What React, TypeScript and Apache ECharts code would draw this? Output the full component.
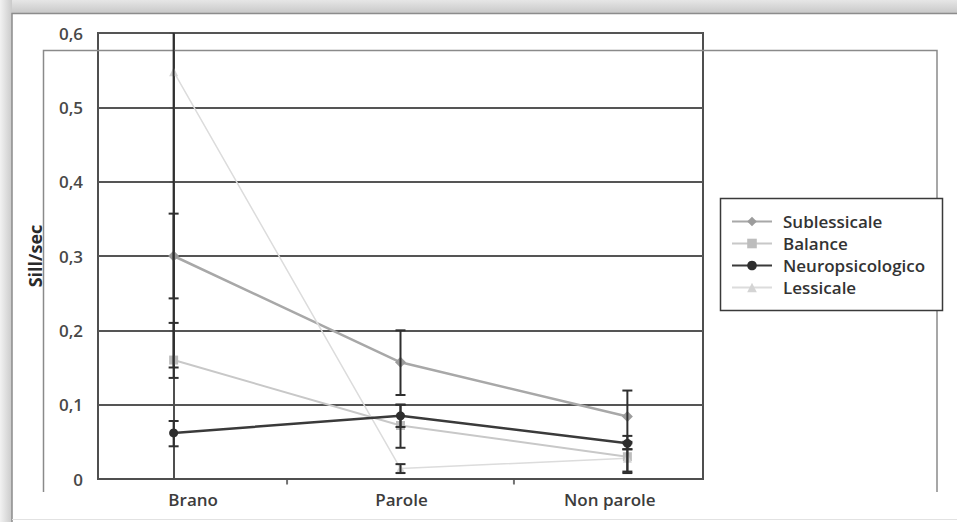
import React, { useEffect, useRef } from "react";
import * as echarts from "echarts";

const categories = ["Brano", "Parole", "Non parole"];
const yTicks = [0, 0.1, 0.2, 0.3, 0.4, 0.5, 0.6];
const seriesNames = ["Sublessicale", "Balance", "Neuropsicologico", "Lessicale"];

const sublessicale = [0.3, 0.157, 0.084];
const sublessicaleLow = [0.243, 0.113, 0.048];
const sublessicaleHigh = [0.357, 0.2, 0.119];

const balance = [0.16, 0.072, 0.03];
const balanceLow = [0.15, 0.042, 0.01];
const balanceHigh = [0.21, 0.1, 0.05];

const neuropsicologico = [0.062, 0.085, 0.048];
const neuropsicologicoLow = [0.044, 0.07, 0.04];
const neuropsicologicoHigh = [0.078, 0.1, 0.058];

const lessicale = [0.548, 0.014, 0.028];
const lessicaleLow = [0.136, 0.008, 0.008];
const lessicaleHigh = [0.96, 0.02, 0.04];

const minorTicks = [0.5, 1.5];

const FONT = "'Open Sans', 'DejaVu Sans', sans-serif";

export default function App() {
  const ref = useRef<HTMLDivElement>(null);

  useEffect(() => {
    if (!ref.current) return;
    const chart = echarts.init(ref.current, null, { renderer: "svg" });

    const values = [sublessicale, balance, neuropsicologico, lessicale];
    const lows = [sublessicaleLow, balanceLow, neuropsicologicoLow, lessicaleLow];
    const highs = [sublessicaleHigh, balanceHigh, neuropsicologicoHigh, lessicaleHigh];
    const colors = ["#a8a8a8", "#c8c8c8", "#3a3a3a", "#dcdcdc"];
    const markerColors = ["#9c9c9c", "#bdbdbd", "#2e2e2e", "#d4d4d4"];
    const widths = [2.5, 2, 2.5, 1.5];
    const symbols = ["diamond", "rect", "circle", "triangle"];
    const symbolSizes = [11, 9, 9, 9];

    const errData: number[][] = [];
    values.forEach((_, s) => {
      categories.forEach((_, i) => {
        errData.push([i, lows[s][i], highs[s][i]]);
      });
    });

    const lineSeries = seriesNames.map((name, s) => ({
      name,
      type: "line",
      xAxisIndex: 0,
      yAxisIndex: 0,
      data: values[s].map((v, i) => [i, v]),
      symbol: symbols[s],
      symbolSize: symbolSizes[s],
      showSymbol: true,
      lineStyle: { color: colors[s], width: widths[s] },
      itemStyle: { color: markerColors[s], borderWidth: 0 },
      z: s === 2 ? 5 : 3,
      clip: true,
    }));

    const option: any = {
      animation: false,
      backgroundColor: "#ffffff",
      textStyle: { fontFamily: FONT },
      grid: [
        {
          left: 98,
          top: 33,
          right: 254,
          bottom: 43,
          show: true,
          borderColor: "#4f4f4f",
          borderWidth: 2,
          backgroundColor: "transparent",
        },
        {
          left: 89,
          top: 33,
          right: 243,
          bottom: 43,
          show: false,
        },
      ],
      xAxis: [
        {
          type: "value",
          gridIndex: 0,
          min: -1 / 3,
          max: 7 / 3,
          interval: 1 / 3,
          axisLine: { show: true, lineStyle: { color: "#4f4f4f", width: 2 } },
          axisTick: { show: false },
          splitLine: { show: false },
          axisLabel: { show: false },
        },
        {
          type: "category",
          gridIndex: 1,
          data: categories,
          boundaryGap: true,
          axisLine: { show: false },
          axisTick: { show: false },
          splitLine: { show: false },
          axisLabel: {
            color: "#3c3c3c",
            fontSize: 17,
            fontWeight: 600,
            fontFamily: FONT,
            margin: 12,
          },
        },
      ],
      yAxis: [
        {
          type: "value",
          gridIndex: 0,
          min: 0,
          max: 0.6,
          interval: 0.1,
          name: "Sill/sec",
          nameLocation: "middle",
          nameGap: 54,
          nameTextStyle: { color: "#2a2a2a", fontSize: 18, fontWeight: "bold", fontFamily: FONT },
          axisLine: { show: true, lineStyle: { color: "#4f4f4f", width: 2 } },
          axisTick: { show: true, length: 4, lineStyle: { color: "#4f4f4f", width: 2 } },
          splitLine: { show: true, lineStyle: { color: "#555555", width: 2 } },
          axisLabel: {
            color: "#484848",
            fontSize: 17,
            fontWeight: 600,
            fontFamily: FONT,
            margin: 15,
            formatter: (v: number) => {
              const t = yTicks.find((y) => Math.abs(y - v) < 1e-9);
              const val = t === undefined ? v : t;
              return val === 0 ? "0" : val.toFixed(1).replace(".", ",");
            },
          },
        },
        {
          type: "value",
          gridIndex: 1,
          show: false,
          min: 0,
          max: 0.6,
        },
      ],
      legend: {
        orient: "vertical",
        left: 731,
        top: 213,
        data: seriesNames,
        itemWidth: 40,
        itemHeight: 12,
        itemGap: 5,
        padding: 0,
        textStyle: {
          color: "#333333",
          fontSize: 17,
          lineHeight: 17,
          fontWeight: 600,
          fontFamily: FONT,
          padding: [0, 0, 0, 6],
        },
      },
      graphic: [
        {
          type: "rect",
          silent: true,
          z: -10,
          shape: { x: 0, y: 0, width: 957, height: 14 },
          style: {
            fill: new echarts.graphic.LinearGradient(0, 0, 0, 1, [
              { offset: 0, color: "#e6e6e6" },
              { offset: 1, color: "#c6c6c6" },
            ]),
          },
        },
        {
          type: "rect",
          silent: true,
          z: -10,
          shape: { x: 0, y: 0, width: 12, height: 522 },
          style: {
            fill: new echarts.graphic.LinearGradient(0, 0, 1, 0, [
              { offset: 0, color: "#f2f2f2" },
              { offset: 1, color: "#cacaca" },
            ]),
          },
        },
        {
          type: "polyline",
          silent: true,
          z: -9,
          shape: { points: [[12, 522], [12, 13.5], [957, 13.5]] },
          style: { stroke: "#8c8c8c", lineWidth: 1.5, fill: "none" },
        },
        {
          type: "line",
          silent: true,
          z: -9,
          shape: { x1: 12, y1: 519.5, x2: 957, y2: 519.5 },
          style: { stroke: "#e2e2e2", lineWidth: 1 },
        },
        {
          type: "polyline",
          silent: true,
          z: 1,
          shape: { points: [[43.5, 492], [43.5, 50.5], [937, 50.5], [937, 492]] },
          style: { stroke: "#8a8a8a", lineWidth: 1.5, fill: "none" },
        },
        {
          type: "line",
          silent: true,
          z: 1,
          shape: { x1: 43.5, y1: 50.5, x2: 937, y2: 50.5 },
          style: {
            stroke: "#6a6a6a",
            lineWidth: 1.8,
            shadowColor: "rgba(0,0,0,0.35)",
            shadowBlur: 5,
            shadowOffsetY: 3,
          },
        },
        {
          type: "rect",
          silent: true,
          z: 4,
          shape: { x: 720.5, y: 198.5, width: 222, height: 112 },
          style: { fill: "#ffffff", stroke: "#3a3a3a", lineWidth: 1.5 },
        },
      ],
      series: [
        {
          name: "errorBars",
          type: "custom",
          xAxisIndex: 0,
          yAxisIndex: 0,
          z: 4,
          clip: true,
          data: errData,
          renderItem: (params: any, api: any) => {
            const x = api.value(0);
            const lo = api.coord([x, api.value(1)]);
            const hi = api.coord([x, api.value(2)]);
            const hw = 5;
            const st = { stroke: "#2f2f2f", lineWidth: 2 };
            return {
              type: "group",
              children: [
                { type: "line", shape: { x1: lo[0], y1: lo[1], x2: hi[0], y2: hi[1] }, style: st },
                { type: "line", shape: { x1: lo[0] - hw, y1: lo[1], x2: lo[0] + hw, y2: lo[1] }, style: st },
                { type: "line", shape: { x1: hi[0] - hw, y1: hi[1], x2: hi[0] + hw, y2: hi[1] }, style: st },
              ],
            };
          },
        },
        {
          name: "xTicks",
          type: "scatter",
          xAxisIndex: 0,
          yAxisIndex: 0,
          data: minorTicks.map((t) => [t, 0]),
          symbol: "rect",
          symbolSize: [2, 5],
          symbolOffset: [0, 3],
          itemStyle: { color: "#4f4f4f" },
          clip: false,
          silent: true,
          z: 2,
        },
        ...lineSeries,
      ],
    };

    chart.setOption(option);
    return () => chart.dispose();
  }, []);

  return (
    <div
      ref={ref}
      style={{ position: "fixed", left: 0, top: 0, width: 957, height: 522 }}
    />
  );
}
